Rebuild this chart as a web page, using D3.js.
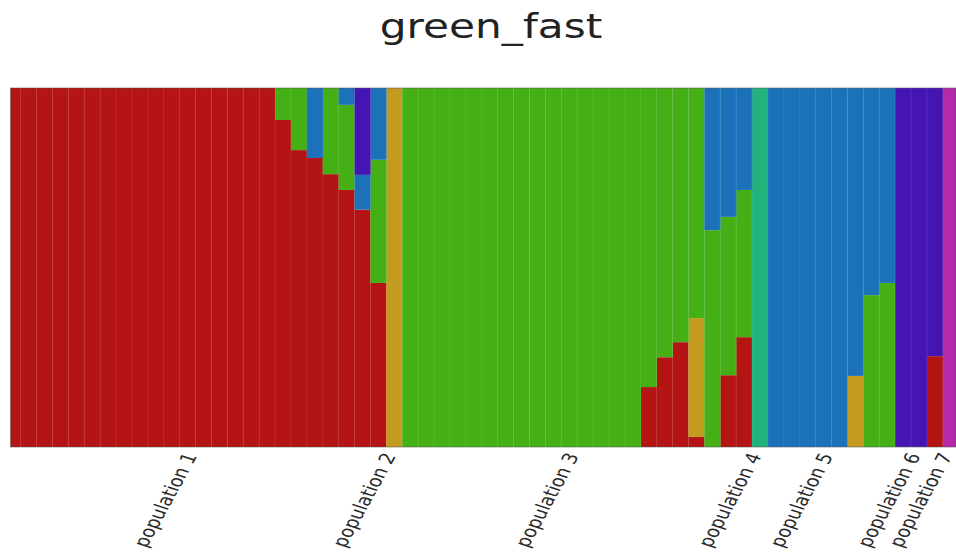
<!DOCTYPE html>
<html>
<head>
<meta charset="utf-8">
<script src="https://cdn.jsdelivr.net/npm/d3@7"></script>
<style>
  html, body { margin: 0; padding: 0; background: #ffffff; }
  svg { display: block; }
</style>
</head>
<body>
<svg id="chart" width="956" height="560"></svg>
<script>
// Admixture proportions (K = 7) for 60 individuals, grouped by population.
const populations = ["population 1", "population 2", "population 3", "population 4",
                     "population 5", "population 6", "population 7"];
const popSizes = [24, 1, 22, 1, 8, 3, 1];

const clusterKeys = ["k1", "k2", "k3", "k4", "k5", "k6", "k7"];
const clusterColors = ["#b41514", "#c39b1f", "#44b016", "#21b37b", "#1b72b8", "#4515b4", "#b42aa8"];

// One array per cluster, one entry per individual (pop1 | pop2 | pop3 | pop4 | pop5 | pop6 | pop7)
const k1 = [1,1,1,1,1,1,1,1,1,1,1,1,1,1,1,1,1, 0.911,0.827,0.805,0.76,0.716,0.661,0.457,
            0,
            0,0,0,0,0,0,0,0,0,0,0,0,0,0,0, 0.167,0.25,0.292,0.028,0,0.2,0.306,
            0,
            0,0,0,0,0,0,0,0,
            0,0,0.253,
            0];
const k2 = [0,0,0,0,0,0,0,0,0,0,0,0,0,0,0,0,0, 0,0,0,0,0,0,0,
            1,
            0,0,0,0,0,0,0,0,0,0,0,0,0,0,0, 0,0,0,0.331,0,0,0,
            0,
            0,0,0,0,0,0.198,0,0,
            0,0,0,
            0];
const k3 = [0,0,0,0,0,0,0,0,0,0,0,0,0,0,0,0,0, 0.089,0.173,0,0.24,0.237,0,0.343,
            0,
            1,1,1,1,1,1,1,1,1,1,1,1,1,1,1, 0.833,0.75,0.708,0.641,0.604,0.441,0.41,
            0,
            0,0,0,0,0,0,0.423,0.457,
            0,0,0,
            0];
const k4 = [0,0,0,0,0,0,0,0,0,0,0,0,0,0,0,0,0, 0,0,0,0,0,0,0,
            0,
            0,0,0,0,0,0,0,0,0,0,0,0,0,0,0, 0,0,0,0,0,0,0,
            1,
            0,0,0,0,0,0,0,0,
            0,0,0,
            0];
const k5 = [0,0,0,0,0,0,0,0,0,0,0,0,0,0,0,0,0, 0,0,0.195,0,0.047,0.097,0.2,
            0,
            0,0,0,0,0,0,0,0,0,0,0,0,0,0,0, 0,0,0,0,0.396,0.359,0.284,
            0,
            1,1,1,1,1,0.802,0.577,0.543,
            0,0,0,
            0];
const k6 = [0,0,0,0,0,0,0,0,0,0,0,0,0,0,0,0,0, 0,0,0,0,0,0.242,0,
            0,
            0,0,0,0,0,0,0,0,0,0,0,0,0,0,0, 0,0,0,0,0,0,0,
            0,
            0,0,0,0,0,0,0,0,
            1,1,0.747,
            0];
const k7 = [0,0,0,0,0,0,0,0,0,0,0,0,0,0,0,0,0, 0,0,0,0,0,0,0,
            0,
            0,0,0,0,0,0,0,0,0,0,0,0,0,0,0, 0,0,0,0,0,0,0,
            0,
            0,0,0,0,0,0,0,0,
            0,0,0,
            1];

const clusterValues = { k1, k2, k3, k4, k5, k6, k7 };
const nInd = k1.length;
const rows = d3.range(nInd).map(i => {
  const r = { id: i };
  clusterKeys.forEach(k => { r[k] = clusterValues[k][i]; });
  return r;
});

const svg = d3.select("#chart");
const plot = { left: 10.5, right: 956, top: 88, bottom: 447 };

const x = d3.scaleLinear().domain([0, nInd]).range([4.7, 958.7]);
const y = d3.scaleLinear().domain([0, 1]).range([plot.bottom, plot.top]);
const color = d3.scaleOrdinal().domain(clusterKeys).range(clusterColors);

svg.append("defs").append("clipPath").attr("id", "plot-clip")
  .append("rect")
  .attr("x", plot.left).attr("y", plot.top)
  .attr("width", plot.right - plot.left).attr("height", plot.bottom - plot.top);

const stacked = d3.stack().keys(clusterKeys)(rows);

const g = svg.append("g").attr("clip-path", "url(#plot-clip)");

g.selectAll("g.layer")
  .data(stacked)
  .join("g")
  .attr("class", "layer")
  .attr("fill", d => color(d.key))
  .selectAll("rect")
  .data(d => d.filter(p => p[1] - p[0] > 0))
  .join("rect")
  .attr("x", p => x(p.data.id))
  .attr("width", p => x(p.data.id + 1) - x(p.data.id) + 0.3)
  .attr("y", p => y(p[1]))
  .attr("height", p => y(p[0]) - y(p[1]));

// faint separators between individuals
g.selectAll("line.sep")
  .data(d3.range(1, nInd))
  .join("line")
  .attr("class", "sep")
  .attr("x1", i => x(i)).attr("x2", i => x(i))
  .attr("y1", plot.top).attr("y2", plot.bottom)
  .attr("stroke", "#ffffff")
  .attr("stroke-opacity", 0.1)
  .attr("stroke-width", 1);

// plot frame
svg.append("rect")
  .attr("x", plot.left).attr("y", plot.top)
  .attr("width", plot.right - plot.left).attr("height", plot.bottom - plot.top)
  .attr("fill", "none")
  .attr("stroke", "#555")
  .attr("stroke-opacity", 0.55)
  .attr("stroke-width", 1);

// population labels at the centre of each group
let start = 0;
const popCenters = popSizes.map(n => { const c = start + n / 2; start += n; return c; });

svg.append("g")
  .selectAll("text")
  .data(populations)
  .join("text")
  .attr("transform", (d, i) => `translate(${x(popCenters[i]) + 2},456) scale(1.3,1) rotate(-67)`)
  .attr("text-anchor", "end")
  .attr("font-family", "DejaVu Sans, sans-serif")
  .attr("font-size", 16)
  .attr("fill", "#2a2a2a")
  .text(d => d);

// title
svg.append("text")
  .attr("transform", "translate(491,38) scale(1.28,1)")
  .attr("text-anchor", "middle")
  .attr("font-family", "DejaVu Sans, sans-serif")
  .attr("font-size", 33)
  .attr("fill", "#222")
  .text("green_fast");
</script>
</body>
</html>
